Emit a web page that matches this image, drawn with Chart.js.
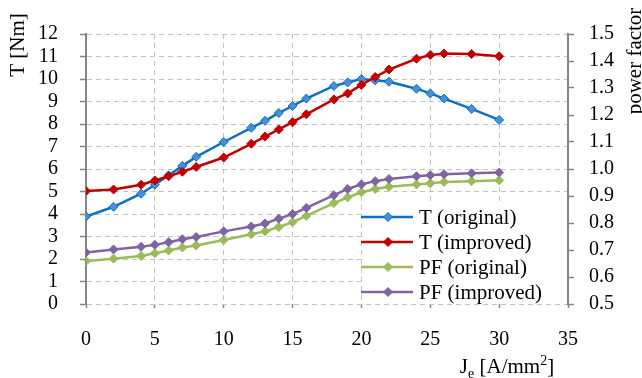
<!DOCTYPE html>
<html>
<head>
<meta charset="utf-8">
<script src="https://cdn.jsdelivr.net/npm/chart.js@4.4.0/dist/chart.umd.min.js"></script>
<style>
  html, body { margin: 0; padding: 0; background: #fff; }
  #wrap { width: 642px; height: 378px; }
</style>
</head>
<body>
<div id="wrap"><canvas id="torqueChart" width="642" height="378"></canvas></div>
<script>
// current density J_e [A/mm2]
const je = [0, 2, 4, 5, 6, 7, 8, 10, 12, 13, 14, 15, 16, 18, 19, 20, 21, 22, 24, 25, 26, 28, 30];
// torque [Nm]
const tOriginal = [3.89, 4.32, 4.90, 5.30, 5.72, 6.14, 6.54, 7.20, 7.83, 8.14, 8.49, 8.80, 9.13, 9.69, 9.85, 10.00, 9.94, 9.88, 9.57, 9.36, 9.13, 8.67, 8.18];
const tImproved = [5.02, 5.09, 5.30, 5.49, 5.68, 5.88, 6.09, 6.51, 7.12, 7.44, 7.76, 8.08, 8.43, 9.09, 9.36, 9.74, 10.09, 10.42, 10.90, 11.07, 11.13, 11.11, 11.01];
// power factor
const pfOriginal = [0.659, 0.668, 0.678, 0.688, 0.698, 0.709, 0.717, 0.737, 0.758, 0.769, 0.785, 0.803, 0.826, 0.874, 0.895, 0.914, 0.926, 0.934, 0.943, 0.947, 0.952, 0.955, 0.958];
const pfImproved = [0.691, 0.702, 0.712, 0.719, 0.729, 0.740, 0.748, 0.769, 0.787, 0.798, 0.816, 0.833, 0.856, 0.903, 0.926, 0.943, 0.955, 0.963, 0.973, 0.977, 0.981, 0.984, 0.987];

const seriesLabels = ['T (original)', 'T (improved)', 'PF (original)', 'PF (improved)'];

const FONT = 'Liberation Serif, Times New Roman, serif';
const AXIS = '#868686';
const GRID = '#c4c4c4';

const pts = ys => je.map((x, i) => ({ x, y: ys[i] }));

function lineSet(label, ys, color, fill, axis, order) {
  return {
    label,
    data: pts(ys),
    yAxisID: axis,
    order,
    borderColor: color,
    backgroundColor: fill,
    borderWidth: 2.5,
    pointStyle: 'rectRot',
    pointRadius: 4.5,
    pointBorderWidth: 1,
    pointBorderColor: color,
    pointBackgroundColor: fill,
    tension: 0
  };
}

/* axis titles, drawn by hand so they sit where the layout wants them */
const axisTitles = {
  id: 'axisTitles',
  afterDraw(chart) {
    const ctx = chart.ctx;
    ctx.save();
    ctx.fillStyle = '#000';
    ctx.font = `21px ${FONT}`;
    ctx.textAlign = 'center';
    ctx.textBaseline = 'middle';

    ctx.save();
    ctx.translate(18, 45);
    ctx.rotate(-Math.PI / 2);
    ctx.fillText('T [Nm]', 0, 0);
    ctx.restore();

    ctx.save();
    ctx.translate(635, 61);
    ctx.rotate(-Math.PI / 2);
    ctx.fillText('power factor', 0, 0);
    ctx.restore();

    // J_e [A/mm^2] with sub/superscript
    const big = `21px ${FONT}`, small = `14px ${FONT}`;
    const parts = [
      { t: 'J', f: big, dy: 0 },
      { t: 'e', f: small, dy: 5 },
      { t: ' [A/mm', f: big, dy: 0 },
      { t: '2', f: small, dy: -8 },
      { t: ']', f: big, dy: 0 }
    ];
    ctx.textAlign = 'left';
    ctx.textBaseline = 'alphabetic';
    let w = 0;
    parts.forEach(p => { ctx.font = p.f; w += ctx.measureText(p.t).width; });
    let x = 507 - w / 2;
    const base = 373;
    parts.forEach(p => {
      ctx.font = p.f;
      ctx.fillText(p.t, x, base + p.dy);
      x += ctx.measureText(p.t).width;
    });
    ctx.restore();
  }
};

/* legend box inside the plot, lower right */
const insideLegend = {
  id: 'insideLegend',
  afterDraw(chart) {
    const ctx = chart.ctx;
    const area = chart.chartArea;
    const left = 362, top = 203;
    ctx.save();
    ctx.fillStyle = '#fff';
    ctx.fillRect(left, top, area.right - left - 1, area.bottom - top - 1);
    ctx.font = `21px ${FONT}`;
    ctx.textBaseline = 'middle';
    ctx.textAlign = 'left';
    chart.data.datasets.forEach((ds, i) => {
      const y = 217 + i * 25;
      ctx.strokeStyle = ds.borderColor;
      ctx.lineWidth = 2.5;
      ctx.beginPath();
      ctx.moveTo(361, y);
      ctx.lineTo(413, y);
      ctx.stroke();
      const r = 4.5;
      ctx.fillStyle = ds.pointBackgroundColor;
      ctx.beginPath();
      ctx.moveTo(388 - r, y);
      ctx.lineTo(388, y - r);
      ctx.lineTo(388 + r, y);
      ctx.lineTo(388, y + r);
      ctx.closePath();
      ctx.fill();
      ctx.lineWidth = 1;
      ctx.stroke();
      ctx.fillStyle = '#000';
      ctx.fillText(ds.label, 419, y + 1);
    });
    ctx.restore();
  }
};

const gridOpts = {
  color: GRID,
  lineWidth: 1,
  tickColor: AXIS,
  tickWidth: 1.5,
  tickBorderDash: [],
  tickLength: 6
};

new Chart(document.getElementById('torqueChart'), {
  type: 'line',
  data: {
    datasets: [
      lineSet(seriesLabels[0], tOriginal, '#0A70C2', '#4C8ED6', 'y', 2),
      lineSet(seriesLabels[1], tImproved, '#C00000', '#C00000', 'y', 1),
      lineSet(seriesLabels[2], pfOriginal, '#9BBB59', '#9BBB59', 'y2', 4),
      lineSet(seriesLabels[3], pfImproved, '#8064A2', '#8064A2', 'y2', 3)
    ]
  },
  options: {
    responsive: false,
    animation: false,
    layout: { padding: { top: 17, right: 0, bottom: 0, left: 0 } },
    plugins: {
      legend: { display: false },
      tooltip: { enabled: false },
      title: { display: false }
    },
    scales: {
      x: {
        type: 'linear',
        min: 0, max: 35,
        ticks: { stepSize: 5, autoSkip: false, padding: 20, color: '#000', font: { family: FONT, size: 20 } },
        grid: { ...gridOpts, tickLength: 4 },
        border: { display: false, dash: [5, 4] },
        afterFit: s => { s.height = 74; }
      },
      y: {
        position: 'left',
        min: 0, max: 12,
        ticks: { stepSize: 1, autoSkip: false, padding: 22, color: '#000', font: { family: FONT, size: 20 } },
        grid: gridOpts,
        border: { display: true, color: AXIS, width: 2, dash: [5, 4] },
        afterFit: s => { s.width = 86; }
      },
      y2: {
        position: 'right',
        min: 0.5, max: 1.5,
        ticks: {
          stepSize: 0.1, autoSkip: false, padding: 15, color: '#000',
          font: { family: FONT, size: 20 },
          callback: v => Number(v).toFixed(1)
        },
        grid: { ...gridOpts, drawOnChartArea: false },
        border: { display: true, color: AXIS, width: 2 },
        afterFit: s => { s.width = 74; }
      }
    }
  },
  plugins: [axisTitles, insideLegend]
});
</script>
</body>
</html>
